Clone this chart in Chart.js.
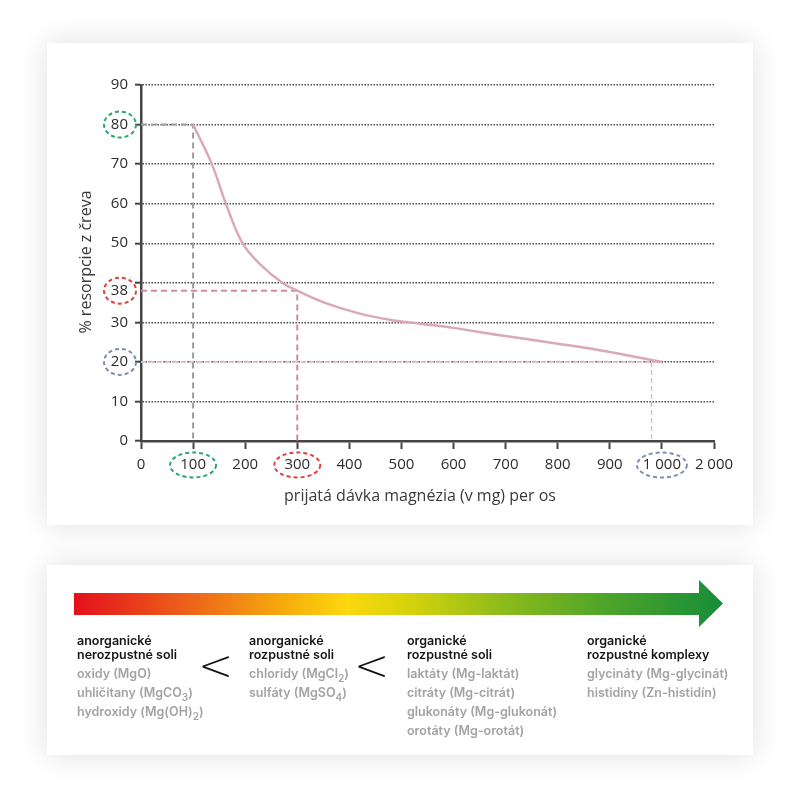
<!DOCTYPE html>
<html lang="sk">
<head>
<meta charset="utf-8">
<title>Resorpcia magnézia</title>
<script src="https://cdn.jsdelivr.net/npm/chart.js@4.4.1/dist/chart.umd.min.js"></script>
<style>
  html, body { margin: 0; padding: 0; background: #fff; }
  body { width: 800px; height: 799px; position: relative; overflow: hidden; }
  .card { position: absolute; left: 47px; width: 706px; background: #fff; box-shadow: 0 0 28px rgba(0, 0, 0, 0.13); }
  #card-chart { top: 43px; height: 482px; }
  #card-scale { top: 565px; height: 190px; }
  #chart { position: absolute; left: 0; top: 0; }
  .arrow {
    position: absolute; left: 27px; top: 15px; width: 649px; height: 47px;
    background: linear-gradient(to right, #e3101d 0%, #ee6e19 20%, #f7ae0c 33%, #fdd80e 42%, #d4d30b 52%, #8dbb1b 66%, #4ea42a 82%, #168d38 100%);
    clip-path: polygon(0 13px, 625px 13px, 625px 0, 649px 23.5px, 625px 47px, 625px 35px, 0 35px);
  }
  .col { position: absolute; top: 69px; font-family: Inter, "Noto Sans", sans-serif; font-size: 12.5px; }
  .col h4 { margin: 0 0 2px 0; font-weight: 600; color: #151515; line-height: 14px; font-size: 12.5px; }
  .col div { color: #a3a3a3; font-weight: 600; line-height: 19px; }
  .col sub { font-size: 10px; line-height: 0; vertical-align: -4px; }
  .lt { position: absolute; top: 80px; font-family: "DejaVu Sans", sans-serif; font-weight: 200; font-size: 42px; line-height: 42px; color: #111; }
</style>
</head>
<body>
<div class="card" id="card-chart"><canvas id="chart" width="706" height="482"></canvas></div>
<div class="card" id="card-scale">
  <div class="arrow"></div>
  <div class="col" style="left:30px">
    <h4>anorganické<br>nerozpustné soli</h4>
    <div>oxidy (MgO)</div>
    <div>uhličitany (MgCO<sub>3</sub>)</div>
    <div>hydroxidy (Mg(OH)<sub>2</sub>)</div>
  </div>
  <div class="lt" style="left:151px">&lt;</div>
  <div class="col" style="left:202px">
    <h4>anorganické<br>rozpustné soli</h4>
    <div>chloridy (MgCl<sub>2</sub>)</div>
    <div>sulfáty (MgSO<sub>4</sub>)</div>
  </div>
  <div class="lt" style="left:307px">&lt;</div>
  <div class="col" style="left:360px">
    <h4>organické<br>rozpustné soli</h4>
    <div>laktáty (Mg-laktát)</div>
    <div>citráty (Mg-citrát)</div>
    <div>glukonáty (Mg-glukonát)</div>
    <div>orotáty (Mg-orotát)</div>
  </div>
  <div class="col" style="left:540px">
    <h4>organické<br>rozpustné komplexy</h4>
    <div>glycináty (Mg-glycinát)</div>
    <div>histidíny (Zn-histidín)</div>
  </div>
</div>
<script>
(function () {
  // dávka (mg) a % resorpcie odčítané z krivky
  var doseMg = [100, 136, 163, 195, 230, 271, 300, 352, 415, 480, 540, 600, 686, 800, 878, 1000];
  var absorptionPct = [80, 70, 60, 50, 44.5, 40, 38, 35, 32.4, 30.6, 29.6, 28.6, 26.8, 24.6, 23, 20];

  // os x: posledná pozícia je označená "2 000"
  var xTickValues = [0, 100, 200, 300, 400, 500, 600, 700, 800, 900, 1000, 1100];
  var xTickLabels = ['0', '100', '200', '300', '400', '500', '600', '700', '800', '900', '1 000', '2 000'];
  var yTickValues = [0, 10, 20, 30, 38, 40, 50, 60, 70, 80, 90];
  var yTickLabels = ['0', '10', '20', '30', '38', '', '50', '60', '70', '80', '90'];

  // pomocné prerušované čiary [x, y]
  var guide80 = [[0, 80], [100, 80], [100, 0]];
  var guide38 = [[0, 38], [300, 38], [300, 0]];
  var guide20 = [[0, 20], [1000, 20]];
  var guide20v = [[980, 20], [980, 0]];

  // zvýraznené hodnoty na osiach
  var markedY = [80, 38, 20];
  var markedX = [100, 300, 1000];
  var markColors = ['#2ea56b', '#e0403f', '#7d8db5'];

  var textColor = '#2c2c2c';
  var axisColor = '#444';

  function pts(arr) {
    return arr.map(function (p) { return { x: p[0], y: p[1] }; });
  }

  function guide(arr, color, width, dash) {
    return {
      data: pts(arr),
      borderColor: color,
      borderWidth: width,
      borderDash: dash,
      pointRadius: 0,
      fill: false,
      tension: 0,
      order: 2,
    };
  }

  var annotate = {
    id: 'annotate',
    afterDraw: function (chart) {
      var ctx = chart.ctx;
      var xs = chart.scales.x, ys = chart.scales.y;
      ctx.save();
      ctx.lineWidth = 2;
      ctx.setLineDash([4, 3]);
      markedY.forEach(function (v, i) {
        ctx.strokeStyle = markColors[i];
        ctx.beginPath();
        ctx.ellipse(73, ys.getPixelForValue(v), 16, 13, 0, 0, Math.PI * 2);
        ctx.stroke();
      });
      markedX.forEach(function (v, i) {
        ctx.strokeStyle = markColors[i];
        ctx.beginPath();
        ctx.ellipse(xs.getPixelForValue(v), 422, v === 1000 ? 25 : 23, 12.5, 0, 0, Math.PI * 2);
        ctx.stroke();
      });
      ctx.setLineDash([]);
      ctx.fillStyle = '#3a3a3a';
      ctx.font = '500 16px "Open Sans"';
      ctx.textAlign = 'center';
      ctx.textBaseline = 'middle';
      ctx.fillText('prijatá dávka magnézia (v mg) per os', 373, 453);
      ctx.translate(39, 219);
      ctx.rotate(-Math.PI / 2);
      ctx.fillText('% resorpcie z čreva', 0, 0);
      ctx.restore();
    },
  };

  function init() {
    if (typeof Chart === 'undefined') return;
    new Chart(document.getElementById('chart'), {
      type: 'line',
      data: {
        datasets: [
          {
            data: doseMg.map(function (d, i) { return { x: d, y: absorptionPct[i] }; }),
            borderColor: '#d9aab5',
            borderWidth: 2.5,
            pointRadius: 0,
            fill: false,
            tension: 0.4,
            order: 1,
          },
          guide(guide80, '#9c9c9c', 2, [6, 4]),
          guide(guide38, '#cf8d9a', 2, [6, 4]),
          guide(guide20, '#e2bcc5', 2, [5, 3]),
          guide(guide20v, '#e2bcc5', 1.5, [5, 3]),
        ],
      },
      options: {
        responsive: false,
        animation: false,
        events: [],
        layout: { padding: { left: 0, top: 42, right: 39, bottom: 0 } },
        plugins: { legend: { display: false }, tooltip: { enabled: false } },
        scales: {
          x: {
            type: 'linear',
            min: 0,
            max: 1100,
            afterBuildTicks: function (s) {
              s.ticks = xTickValues.map(function (v) { return { value: v }; });
            },
            afterFit: function (s) { s.height = 84; },
            ticks: {
              color: textColor,
              font: { family: 'Open Sans', size: 15, weight: '500' },
              padding: 7,
              maxRotation: 0,
              autoSkip: false,
              callback: function (v) { return xTickLabels[xTickValues.indexOf(v)]; },
            },
            grid: { drawOnChartArea: false, drawTicks: true, tickLength: 8, tickWidth: 2, tickColor: axisColor },
            border: { color: axisColor, width: 2.5 },
          },
          y: {
            min: 0,
            max: 90,
            afterBuildTicks: function (s) {
              s.ticks = yTickValues.map(function (v) { return { value: v }; });
            },
            afterFit: function (s) { s.width = 94; },
            ticks: {
              color: textColor,
              font: { family: 'Open Sans', size: 15, weight: '500' },
              padding: 7,
              autoSkip: false,
              callback: function (v) { return yTickLabels[yTickValues.indexOf(v)]; },
            },
            grid: {
              color: function (c) { return c.tick && c.tick.value === 38 ? 'rgba(0,0,0,0)' : '#3c3c3c'; },
              lineWidth: 1.4,
              tickLength: 6,
              tickWidth: 2,
              tickColor: function (c) { return c.tick && c.tick.value === 38 ? 'rgba(0,0,0,0)' : axisColor; },
            },
            border: { color: axisColor, width: 2.5, dash: [1.4, 1.6] },
          },
        },
      },
      plugins: [annotate],
    });
  }

  if (document.readyState === 'loading') {
    document.addEventListener('DOMContentLoaded', init);
  } else {
    init();
  }
})();
</script>
</body>
</html>
